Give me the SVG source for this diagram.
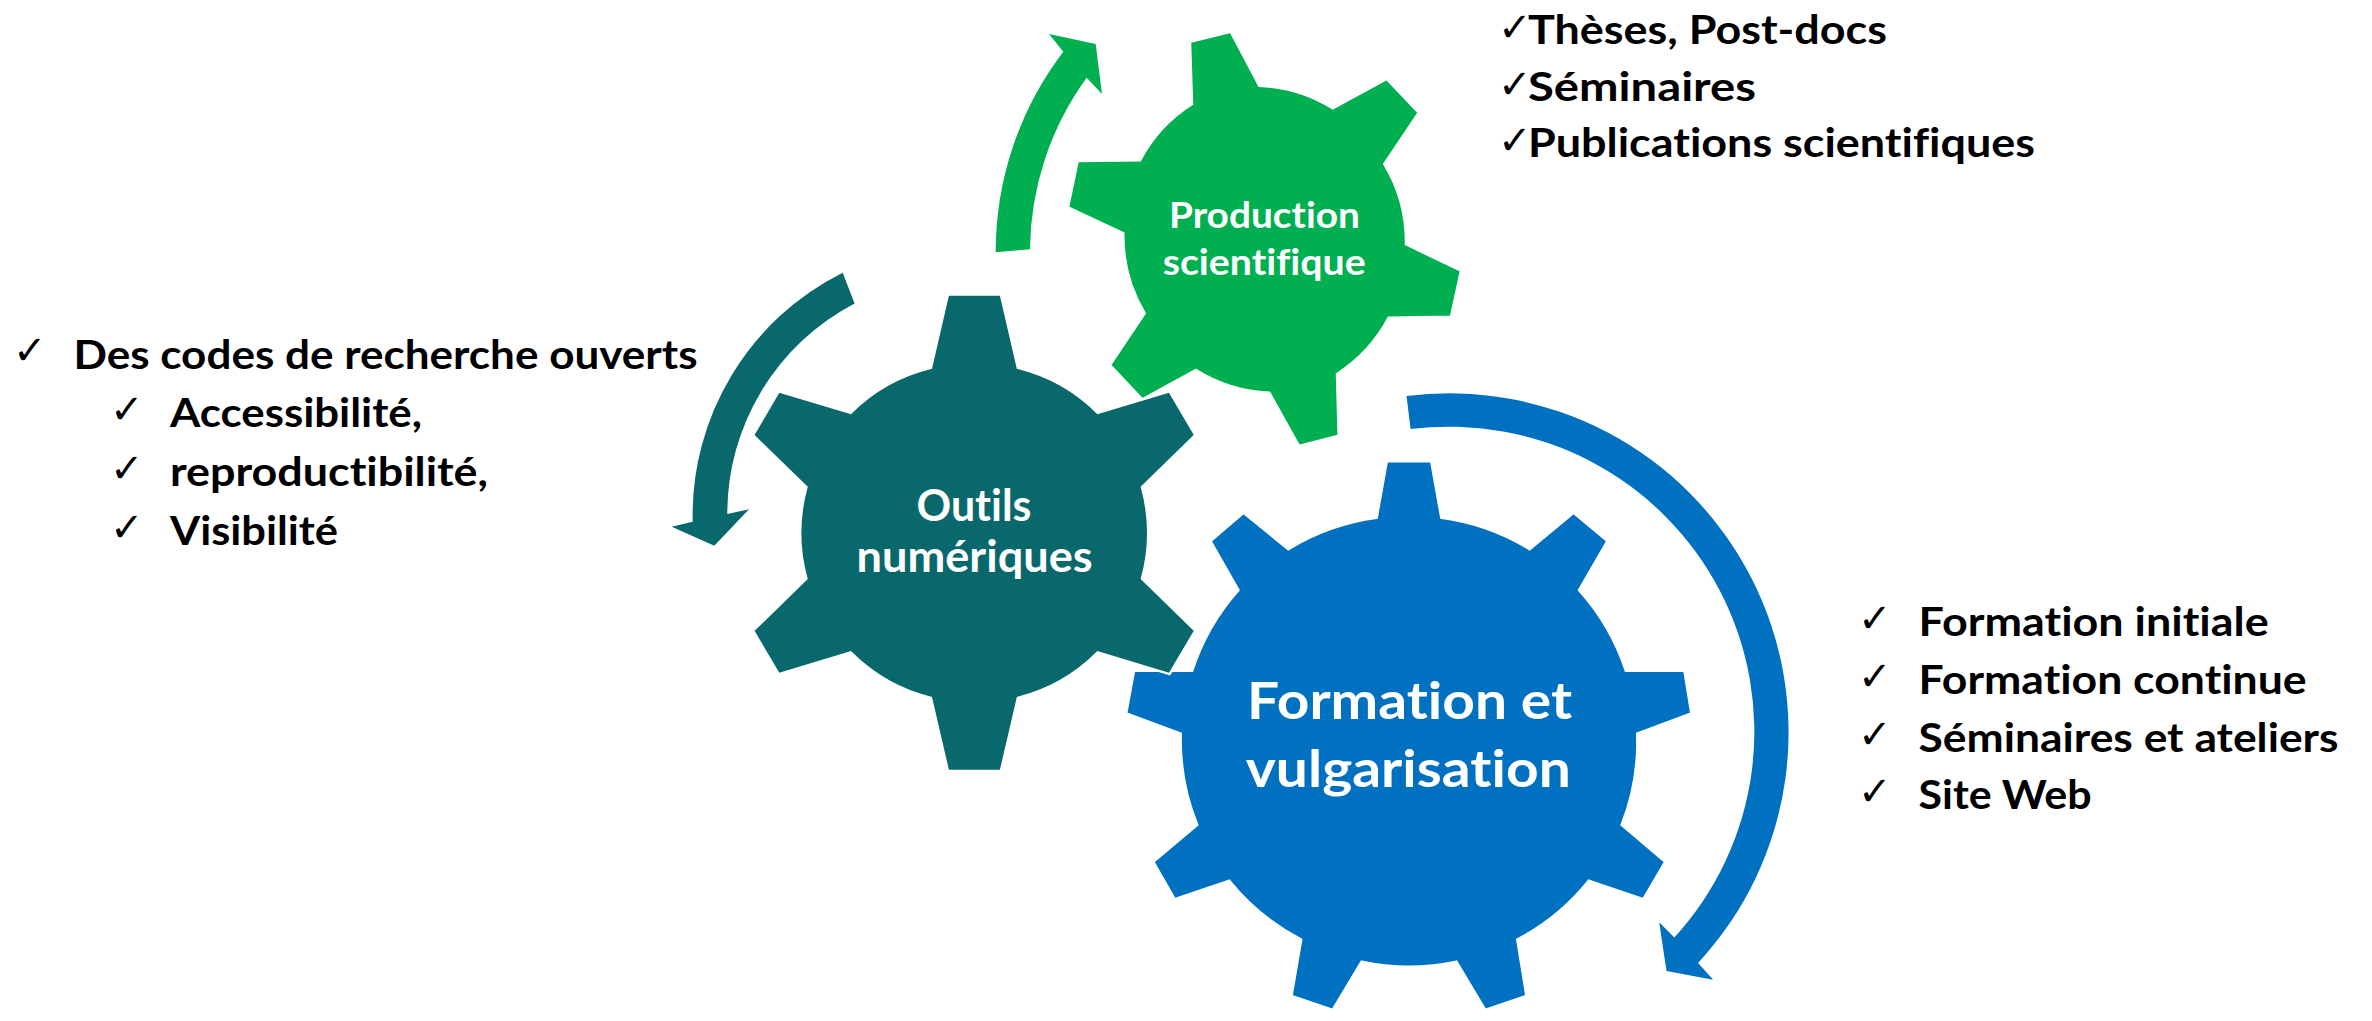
<svg xmlns="http://www.w3.org/2000/svg" width="2372" height="1021" viewBox="0 0 2372 1021">
  <style>
    .gear { stroke: #FFFFFF; stroke-width: 2.5; stroke-linejoin: miter; }
    .g-green { fill: #00B050; }
    .g-teal { fill: #09686B; }
    .g-blue { fill: #0070C0; }
    .lbl { font-family: Lato, "Open Sans", "Liberation Sans", sans-serif; font-weight: 700; fill: #FFFFFF; text-anchor: middle; font-variant-ligatures: none; }
    .item { font-family: Lato, "Open Sans", "Liberation Sans", sans-serif; font-weight: 700; fill: #000000; font-size: 41px; font-variant-ligatures: none; }
    .chk { font-family: "DejaVu Sans", sans-serif; font-weight: 400; fill: #000000; font-size: 40px; }
  </style>

  <rect x="0" y="0" width="2372" height="1021" fill="#FFFFFF"/>

  <!-- Rotation arrows -->
  <g id="connectors">
    <path id="arrow-green" class="g-green" d="M995.7,252.3 A330,330 0 0 1 1063.3,51.7 L1049,34 L1095.7,44 L1102,94 L1086.7,77.7 A296,296 0 0 0 1030,249.3 Z"/>
    <path id="arrow-teal" class="g-teal" d="M842.7,272.7 A271,271 0 0 0 692.7,521.7 L671.7,526.7 L714.3,545.7 L749,509.3 L727.3,514 A237,237 0 0 1 854.6,303.4 Z"/>
    <path id="arrow-blue" class="g-blue" d="M1406.5,396.1 A339,339 0 0 1 1698.1,962.9 L1713.2,979.8 L1666.5,971 L1659.2,922.3 L1674.3,937.6 A305,305 0 0 0 1410.6,429.1 Z"/>
  </g>

  <!-- Formation et vulgarisation (9 teeth) -->
  <g id="gear-formation">
    <path class="gear g-blue" d="M1376.7,517.7 L1386.8,461.3 L1431.2,461.3 L1441.3,517.7 A226,226 0 0 1 1529.6,549.1 L1573.6,512.9 L1607.5,541 L1579.1,590.1 A226,226 0 0 1 1625.8,670.7 L1684.4,670.7 L1691.3,713.3 L1637.2,733.5 A226,226 0 0 1 1621.7,824.8 L1665.2,861.9 L1643.2,899.3 L1588.7,880.8 A226,226 0 0 1 1517.3,939.6 L1526.4,995.9 L1485.2,1010 L1456.4,961.7 A226,226 0 0 1 1361.6,961.7 L1332.7,1010 L1291.5,995.9 L1301.2,939.6 A226,226 0 0 1 1229.3,880.8 L1174.8,899.3 L1153.3,861.9 L1197.2,824.8 A226,226 0 0 1 1180.7,733.5 L1126.2,713.3 L1134,670.7 L1192.2,670.7 A226,226 0 0 1 1238.4,590.1 L1210.5,541 L1243.5,512.9 L1288.3,549.1 A226,226 0 0 1 1376.7,517.7 Z"/>
    <text class="lbl" font-size="52" x="1409.6" y="719" textLength="325" lengthAdjust="spacingAndGlyphs">Formation et</text>
    <text class="lbl" font-size="52" x="1408.3" y="787" textLength="325" lengthAdjust="spacingAndGlyphs">vulgarisation</text>
  </g>

  <!-- Outils numériques (6 teeth) -->
  <g id="gear-outils">
    <path class="gear g-teal" d="M930.9,367.9 L947.9,294.5 L1000.9,294.5 L1017.9,367.9 A172,172 0 0 1 1097.7,412.8 L1169.6,391.4 L1195.3,435.2 L1142,487.2 A172,172 0 0 1 1142,578.6 L1195.3,630.7 L1169.6,674.1 L1097.7,652.4 A172,172 0 0 1 1017.9,697.9 L1000.9,771 L947.9,771 L930.9,697.9 A172,172 0 0 1 850.7,652.4 L778.7,674.1 L753,630.7 L806.4,578.6 A172,172 0 0 1 806.4,487.2 L753,435.2 L778.7,391.4 L850.7,412.8 A172,172 0 0 1 930.9,367.9 Z"/>
    <text class="lbl" font-size="43" x="974" y="521" textLength="115" lengthAdjust="spacingAndGlyphs">Outils</text>
    <text class="lbl" font-size="43" x="974.6" y="572" textLength="236" lengthAdjust="spacingAndGlyphs">numériques</text>
  </g>

  <!-- Production scientifique (6 teeth, rotated) -->
  <g id="gear-production">
    <path class="gear g-green" d="M1192,104 L1190,41.7 L1230.7,31.7 L1259.3,85.7 A150,150 0 0 1 1332.7,108.3 L1386.7,79 L1418.7,112.7 L1384.3,164 A150,150 0 0 1 1406,244.3 L1461,270.7 L1451,316.7 L1388.7,317.7 A150,150 0 0 1 1337,374 L1338.7,435.7 L1299,446 L1269.3,392.7 A150,150 0 0 1 1196,370 L1142.3,399.3 L1110,365 L1144.7,313.3 A150,150 0 0 1 1123.3,233.3 L1068,207.3 L1077.7,161 L1140,160.3 A150,150 0 0 1 1192,104 Z"/>
    <text class="lbl" font-size="37" x="1264.5" y="228" textLength="191" lengthAdjust="spacingAndGlyphs">Production</text>
    <text class="lbl" font-size="37" x="1264.2" y="275" textLength="203" lengthAdjust="spacingAndGlyphs">scientifique</text>
  </g>

  <!-- Outils numériques: bullet list -->
  <g id="list-outils">
    <text class="chk" x="13" y="364">✓</text>
    <text class="item" x="73.5" y="369" textLength="624" lengthAdjust="spacingAndGlyphs">Des codes de recherche ouverts</text>
    <text class="chk" x="110" y="423">✓</text>
    <text class="item" x="170" y="427" textLength="252" lengthAdjust="spacingAndGlyphs">Accessibilité,</text>
    <text class="chk" x="110" y="482">✓</text>
    <text class="item" x="170" y="486" textLength="318" lengthAdjust="spacingAndGlyphs">reproductibilité,</text>
    <text class="chk" x="110" y="541">✓</text>
    <text class="item" x="170" y="545" textLength="168" lengthAdjust="spacingAndGlyphs">Visibilité</text>
  </g>

  <!-- Production scientifique: bullet list (checks set tight against the text) -->
  <g id="list-production">
    <text class="chk" x="1498" y="41" font-size="30">✓</text>
    <text class="item" x="1528" y="44" textLength="359" lengthAdjust="spacingAndGlyphs">Thèses, Post-docs</text>
    <text class="chk" x="1498" y="98" font-size="30">✓</text>
    <text class="item" x="1528" y="101" textLength="228" lengthAdjust="spacingAndGlyphs">Séminaires</text>
    <text class="chk" x="1498" y="154" font-size="30">✓</text>
    <text class="item" x="1528" y="157" textLength="507" lengthAdjust="spacingAndGlyphs">Publications scientifiques</text>
  </g>

  <!-- Formation et vulgarisation: bullet list -->
  <g id="list-formation">
    <text class="chk" x="1858" y="632">✓</text>
    <text class="item" x="1918.6" y="636" textLength="350" lengthAdjust="spacingAndGlyphs">Formation initiale</text>
    <text class="chk" x="1858" y="690">✓</text>
    <text class="item" x="1918.6" y="694" textLength="388" lengthAdjust="spacingAndGlyphs">Formation continue</text>
    <text class="chk" x="1858" y="748">✓</text>
    <text class="item" x="1918.6" y="752" textLength="420" lengthAdjust="spacingAndGlyphs">Séminaires et ateliers</text>
    <text class="chk" x="1858" y="805">✓</text>
    <text class="item" x="1918.6" y="809" textLength="173" lengthAdjust="spacingAndGlyphs">Site Web</text>
  </g>
</svg>
